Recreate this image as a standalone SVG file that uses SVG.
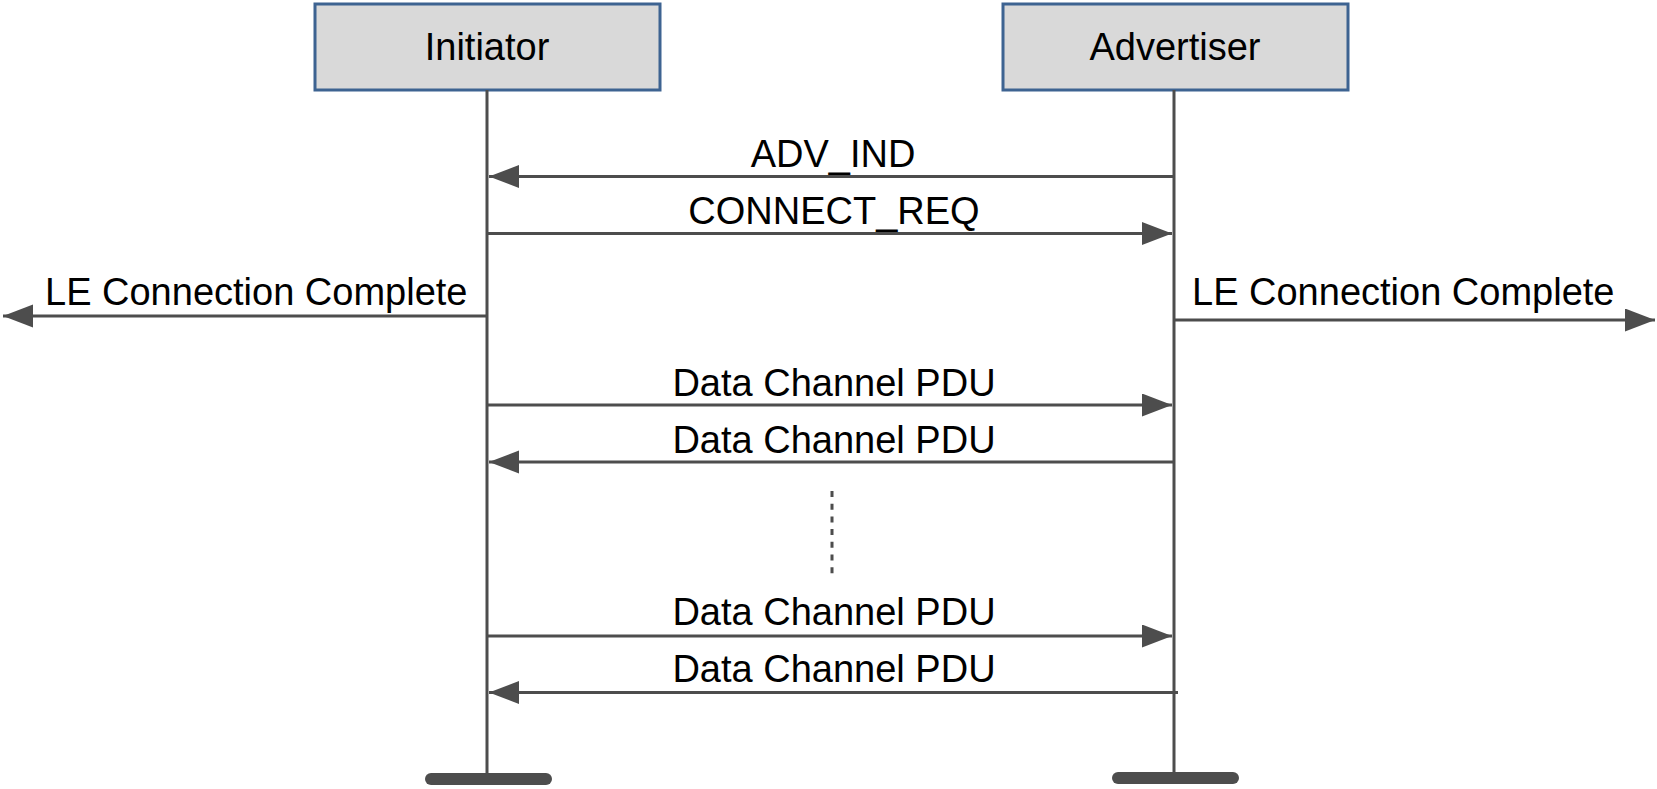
<svg xmlns="http://www.w3.org/2000/svg" width="1657" height="789" viewBox="0 0 1657 789">
<style>
.box{fill:#d9d9d9;stroke:#3d6391;stroke-width:3}
.life{stroke:#4d4d4d;stroke-width:3;fill:none}
.bar{stroke:#4d4d4d;stroke-width:12;stroke-linecap:round}
.msg{stroke:#4d4d4d;stroke-width:3;fill:none;marker-end:url(#ah)}
.t{font-family:"Liberation Sans",Arial,sans-serif;font-size:38px;fill:#000;text-anchor:middle}
.ts{font-family:"Liberation Sans",Arial,sans-serif;font-size:38px;fill:#000}
</style>
<defs>
<marker id="ah" markerUnits="userSpaceOnUse" markerWidth="32" markerHeight="24" refX="30" refY="11.5" orient="auto">
<path d="M0,0 L30,11.5 L0,23 z" fill="#4d4d4d"/>
</marker>
</defs>
<g id="initiator">
<rect class="box" x="315" y="4" width="345" height="86"/>
<text class="t" x="487" y="60">Initiator</text>
<line class="life" x1="487" y1="90" x2="487" y2="779"/>
<line class="bar" x1="431" y1="779" x2="546" y2="779"/>
</g>
<g id="advertiser">
<rect class="box" x="1003" y="4" width="345" height="86"/>
<text class="t" x="1175" y="60">Advertiser</text>
<line class="life" x1="1174" y1="90" x2="1174" y2="778"/>
<line class="bar" x1="1118" y1="778" x2="1233" y2="778"/>
</g>
<g id="connectors">
<line class="msg" x1="1174" y1="176.5" x2="489" y2="176.5"/>
<line class="msg" x1="487" y1="233.5" x2="1172" y2="233.5"/>
<line class="msg" x1="487" y1="316" x2="3" y2="316"/>
<line class="msg" x1="1174" y1="320" x2="1655" y2="320"/>
<line class="msg" x1="487" y1="405" x2="1172" y2="405"/>
<line class="msg" x1="1174" y1="462" x2="489" y2="462"/>
<line class="msg" x1="487" y1="636" x2="1172" y2="636"/>
<line class="msg" x1="1178" y1="692.5" x2="489" y2="692.5"/>
<line x1="832" y1="491" x2="832" y2="574" stroke="#4d4d4d" stroke-width="3" stroke-dasharray="6 6.7"/>
</g>
<g id="labels">
<text class="t" x="833" y="167">ADV_IND</text>
<text class="t" x="834" y="224">CONNECT_REQ</text>
<text class="ts" x="45" y="305">LE Connection Complete</text>
<text class="ts" x="1192" y="305">LE Connection Complete</text>
<text class="t" x="834" y="396">Data Channel PDU</text>
<text class="t" x="834" y="453">Data Channel PDU</text>
<text class="t" x="834" y="625">Data Channel PDU</text>
<text class="t" x="834" y="682">Data Channel PDU</text>
</g>
</svg>
